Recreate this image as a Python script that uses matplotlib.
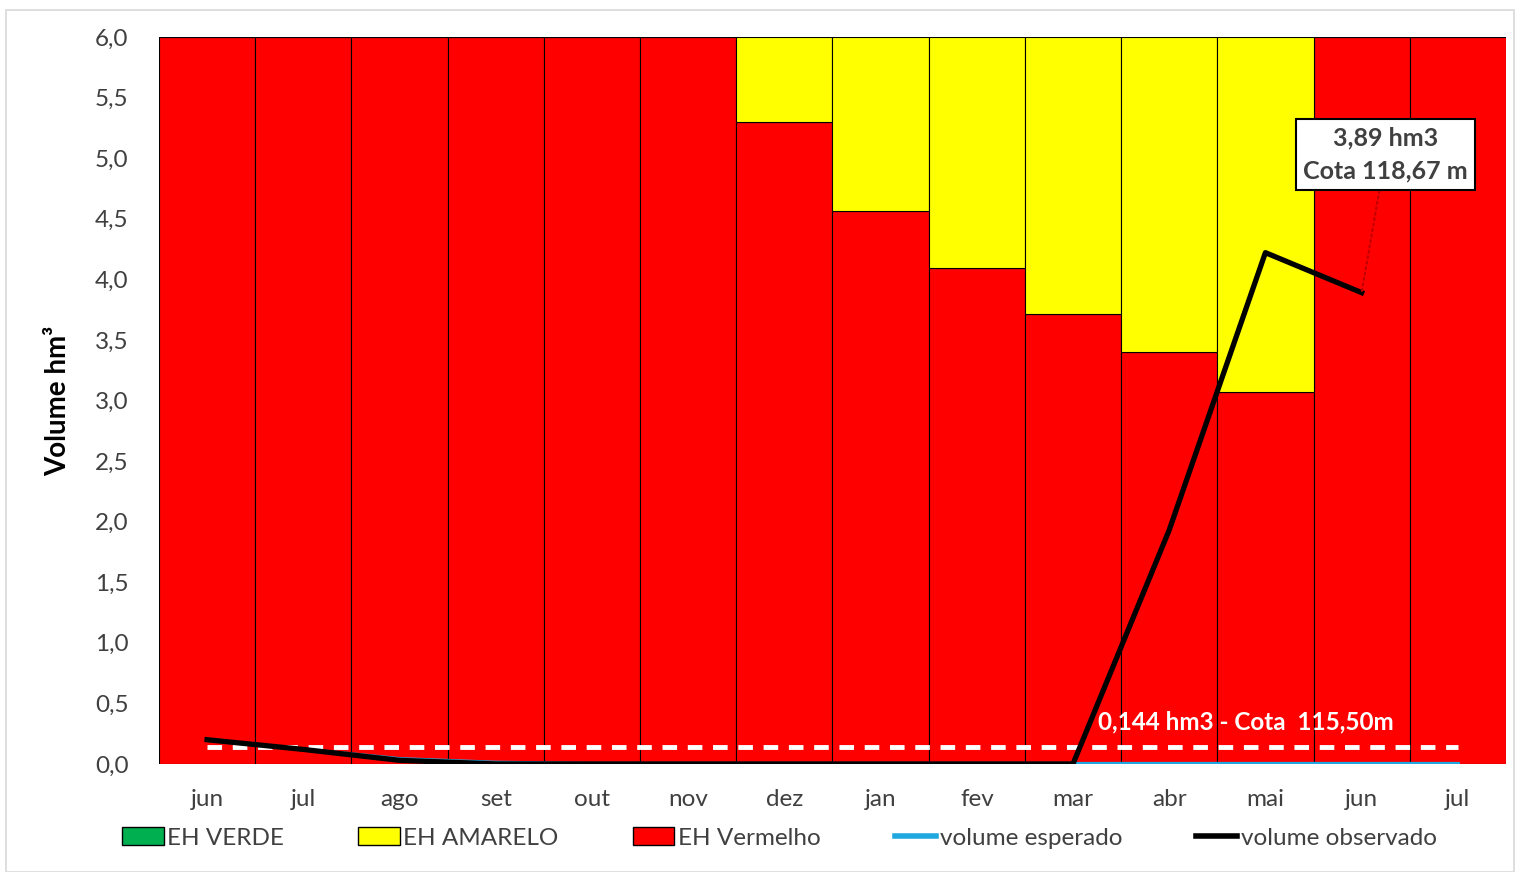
import matplotlib
matplotlib.use("Agg")
import matplotlib.pyplot as plt
from matplotlib.patches import Patch, Rectangle
from matplotlib.lines import Line2D

plt.rcParams["font.family"] = ["Lato", "DejaVu Sans"]

months = ["jun", "jul", "ago", "set", "out", "nov", "dez", "jan", "fev", "mar", "abr", "mai", "jun", "jul"]
eh_verde = [0, 0, 0, 0, 0, 0, 0, 0, 0, 0, 0, 0, 0, 0]
eh_vermelho = [6.0, 6.0, 6.0, 6.0, 6.0, 6.0, 5.30, 4.56, 4.09, 3.71, 3.40, 3.07, 6.0, 6.0]
eh_amarelo = [6.0 - v for v in eh_vermelho]
vol_esperado = [0.20, 0.12, 0.04, 0.01, 0.0, 0.0, 0.0, 0.0, 0.0, 0.0, 0.0, 0.0, 0.0, 0.0]
vol_observado = [0.20, 0.12, 0.03, 0.0, 0.0, 0.0, 0.0, 0.0, 0.0, 0.0, 1.93, 4.22, 3.89]
limite = 0.144

x = list(range(len(months)))

fig = plt.figure(figsize=(15.17, 8.72), dpi=100)
fig.patches.append(Rectangle((0.004, 0.0), 0.994, 0.988, transform=fig.transFigure,
                             fill=False, edgecolor="#d9d9d9", linewidth=1.2))
ax = fig.add_axes([0.1048, 0.1239, 0.8879, 0.8337])

ax.bar(x, eh_verde, width=1.0, color="#00b050", edgecolor="black", linewidth=0.8)
ax.bar(x, eh_vermelho, width=1.0, color="#ff0000", edgecolor="black", linewidth=0.8)
ax.bar(x, eh_amarelo, bottom=eh_vermelho, width=1.0, color="#ffff00", edgecolor="black", linewidth=0.8)

ax.plot(x, vol_esperado, color="#1fa8e0", linewidth=3, zorder=4)
ax.plot(x[:len(vol_observado)], vol_observado, color="black", linewidth=3.8, zorder=5)
ax.plot([x[0], x[-1]], [limite, limite], color="white", linewidth=3.5, dashes=(3, 2.2), zorder=4)

ax.text(9.26, 0.25, "0,144 hm3 - Cota  115,50m", color="white", fontsize=17.5,
        fontweight="bold", ha="left", va="bottom", zorder=6)

ax.annotate("3,89 hm3\nCota 118,67 m", xy=(12, 3.89), xytext=(12.25, 5.03),
            ha="center", va="center", fontsize=18, fontweight="bold", color="#404040",
            linespacing=1.55, zorder=7,
            bbox=dict(boxstyle="square,pad=0.3", facecolor="white", edgecolor="black", linewidth=1.5),
            arrowprops=dict(arrowstyle="-", linestyle=":", color="#c00000", linewidth=1.5,
                            shrinkA=0, shrinkB=0))

ax.set_xlim(-0.5, len(months) - 0.5)
ax.set_ylim(0, 6.0)
ax.set_yticks([i * 0.5 for i in range(13)])
ax.set_yticklabels([f"{i * 0.5:.1f}".replace(".", ",") for i in range(13)])
ax.set_xticks(x)
ax.set_xticklabels(months)
ax.tick_params(axis="both", length=0, labelsize=17.5, colors="#404040")
ax.tick_params(axis="x", pad=18)
ax.tick_params(axis="y", pad=22)
for s in ax.spines.values():
    s.set_visible(False)
ax.set_ylabel("Volume hm³", fontsize=20, fontweight="bold", labelpad=17)

handles = [
    Patch(facecolor="#00b050", edgecolor="black", label="EH VERDE"),
    Patch(facecolor="#ffff00", edgecolor="black", label="EH AMARELO"),
    Patch(facecolor="#ff0000", edgecolor="black", label="EH Vermelho"),
    Line2D([], [], color="#1fa8e0", linewidth=4, label="volume esperado"),
    Line2D([], [], color="black", linewidth=4, label="volume observado"),
]
leg = fig.legend(handles=handles, loc="center", bbox_to_anchor=(0.514, 0.039), ncol=5,
                 frameon=False, fontsize=17.5, handlelength=1.7, handleheight=0.75,
                 handletextpad=0.15, columnspacing=3.05)
for t in leg.get_texts():
    t.set_color("#404040")

fig.savefig("out.png", dpi=100)
